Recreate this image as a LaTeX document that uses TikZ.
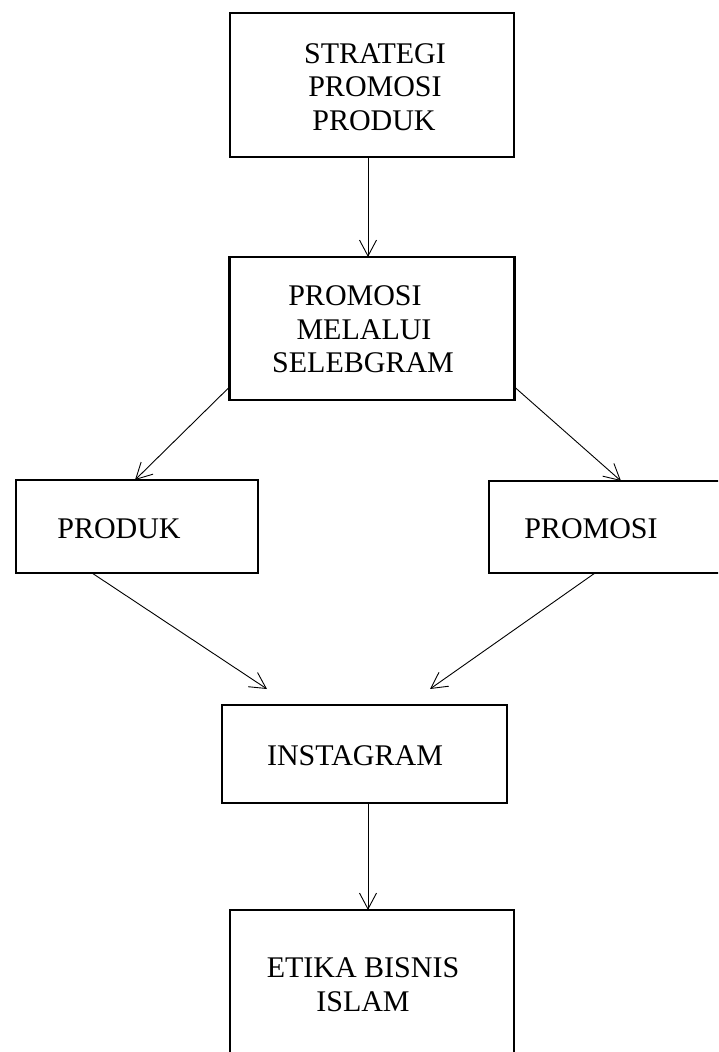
\documentclass[tikz,border=0pt]{standalone}
\usepackage{fontspec}
\setmainfont{Liberation Serif}
\usetikzlibrary{arrows.meta,calc}
\begin{document}
\begin{tikzpicture}[x=1pt,y=-1pt,
  box/.style={draw,line width=2.6pt,rectangle,inner sep=0pt,outer sep=0pt},
  lbl/.style={anchor=base,inner sep=0pt,font=\fontsize{30}{33}\selectfont},
  conn/.style={line width=0.9pt,-{Straight Barb[length=16pt,width=17pt,line width=0.9pt]}}]
\useasboundingbox (0,0) rectangle (718,1052);
\begin{scope}
\clip (0,0) rectangle (718,1052);
\node[box,minimum width=284pt,minimum height=144pt] (b1) at (372,85) {};
\node[box,minimum width=285pt,minimum height=143pt] (b2) at (372,328.5) {};
\node[box,minimum width=242pt,minimum height=93pt] (b3) at (137,526.5) {};
\node[box,minimum width=250pt,minimum height=92pt] (b4) at (614,527) {};
\node[box,minimum width=285pt,minimum height=98pt] (b5) at (364.5,754) {};
\node[box,minimum width=284pt,minimum height=160pt] (b6) at (372,990) {};
\end{scope}
\node[lbl] (t1a) at (375,63) {STRATEGI};
\node[lbl] (t1b) at (375,96.5) {PROMOSI};
\node[lbl] (t1c) at (374,130) {PRODUK};
\node[lbl] (t2a) at (355,305) {PROMOSI};
\node[lbl] (t2b) at (364,339) {MELALUI};
\node[lbl] (t2c) at (363,372) {SELEBGRAM};
\node[lbl] (t3) at (119,538) {PRODUK};
\node[lbl] (t4) at (591,538) {PROMOSI};
\node[lbl] (t5) at (355,765) {INSTAGRAM};
\node[lbl] (t6a) at (363,977) {ETIKA BISNIS};
\node[lbl] (t6b) at (363,1011) {ISLAM};
\coordinate (p4) at (267,689);
\coordinate (p5) at (430,689);
\draw[conn] ($(b1.south)+(-4,0)$) -- ($(b2.north)+(-4,0)$);
\draw[conn] ($(b2.south west)+(0,-13)$) -- ($(b3.north west)+(119,0)$);
\draw[conn] ($(b2.south east)+(0,-13)$) -- ($(b4.north west)+(132,0)$);
\draw[conn] ($(b3.south west)+(76,0)$) -- (p4);
\draw[conn] ($(b4.south west)+(106,0)$) -- (p5);
\draw[conn] ($(b5.south)+(3.5,0)$) -- ($(b6.north)+(-4,0)$);
\end{tikzpicture}
\end{document}
